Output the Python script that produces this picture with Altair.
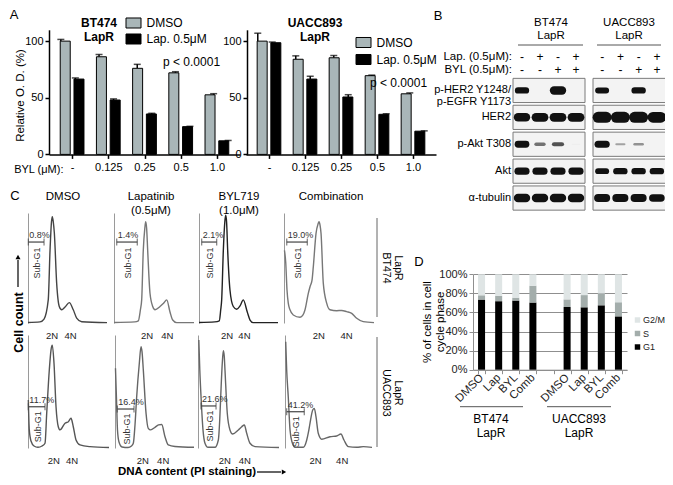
import json
import altair as alt
import pandas as pd

W, H = 657, 469
MARGIN = 8
FONT = "Liberation Sans"


def P(v):
    """page pixel -> plot pixel"""
    return v - MARGIN


# ---------------- data: panel A (relative O.D.) ----------------
doses = ["-", "0.125", "0.25", "0.5", "1.0"]
treatments = ["DMSO", "Lap. 0.5μM"]
bt474_dmso = [100.0, 86.2, 76.0, 72.0, 52.6]
bt474_dmso_err = [1.5, 2.0, 3.5, 1.0, 1.0]
bt474_lap = [66.5, 48.0, 35.7, 24.5, 12.0]
bt474_lap_err = [1.0, 1.0, 0.6, 0.3, 0.3]
uacc893_dmso = [100.0, 84.0, 85.3, 69.5, 53.5]
uacc893_dmso_err = [7.0, 3.0, 2.0, 0.5, 0.8]
uacc893_lap = [98.6, 66.5, 50.7, 35.4, 20.5]
uacc893_lap_err = [0.6, 2.5, 2.0, 0.5, 0.3]
A_COLORS = ["#a9b6b8", "#000000"]

# ---------------- data: panel B (western blot band signal) ----------------
blot_rows = ["p-HER2 Y1248/\np-EGFR Y1173", "HER2", "p-Akt T308", "Akt", "α-tubulin"]
blot_lanes = [1, 2, 3, 4]
lap_treatment = ["-", "+", "-", "+"]
byl_treatment = ["-", "-", "+", "+"]
bt474_blot = [
    [0.75, 0.0, 1.0, 0.0],
    [1.0, 1.05, 1.05, 1.05],
    [0.8, 0.4, 0.5, 0.05],
    [0.85, 0.85, 0.85, 0.85],
    [1.0, 1.0, 1.0, 1.0],
]
uacc893_blot = [
    [0.7, 0.0, 0.75, 0.0],
    [1.3, 1.3, 1.3, 1.25],
    [0.85, 0.25, 0.3, 0.0],
    [0.7, 0.75, 0.75, 0.75],
    [0.95, 0.95, 0.95, 0.9],
]

# ---------------- data: panel C (PI histograms, x = DNA content a.u., y = % of max) ----------------
bt474_dmso_u = [0, 14.8, 19.8, 25, 27.2, 29, 30, 31.2, 32.5, 35.4, 38.6, 41.6, 45.7, 51, 55.9, 60.1, 66.3, 97.5]
bt474_dmso_v = [0.5, 1, 3.6, 21, 66, 92, 96.6, 92, 82, 36, 15, 12, 14.5, 18.5, 12, 4.5, 1.2, 0.3]
bt474_lap_u = [0, 26, 30.4, 33, 34.6, 36.6, 38.5, 39.6, 40.8, 42.1, 45, 48.4, 51.3, 57.5, 61.9, 65.9, 70, 73.4, 78.4, 100]
bt474_lap_v = [0.5, 1, 2, 12, 21, 66, 86, 92, 86, 66, 27, 15, 12, 15, 18, 21, 10, 2.7, 0.3, 0.3]
bt474_byl_u = [0, 20, 25.7, 27.5, 28.7, 30.8, 32.7, 33.8, 34.9, 36.3, 39.2, 43.4, 47.7, 51.9, 56.1, 61.1, 64.6, 68.7, 100]
bt474_byl_v = [0.5, 1, 2, 12, 21, 66, 92, 98, 92, 66, 30, 15, 12.5, 15.5, 21, 10, 2.7, 0.3, 0.3]
bt474_comb_u = [0.5, 1.9, 3.3, 4.7, 6.6, 10.2, 17.6, 20.9, 23.1, 26.7, 28.6, 30.8, 32.2, 35.2, 37.4, 38.5,
                39.6, 40.7, 43.2, 46.9, 50.5, 57.9, 63.4, 68.9, 74.4, 79.9, 87.1, 98.9]
bt474_comb_v = [66, 55, 30, 18, 12, 7.3, 5.2, 7.3, 12, 27, 33, 39, 51, 81.5, 90, 92,
                89, 81.5, 36, 18, 12, 11.2, 11.4, 10.3, 8.8, 4.3, 1.2, 0.3]
uacc893_dmso_u = [0.4, 1.6, 3.7, 7.4, 12.3, 17.3, 21, 23.1, 26.3, 28.4, 30, 32.1, 34.6, 37.4, 39.5, 45.7,
                  49.8, 53.1, 55.9, 59.3, 64.2, 76.5, 100]
uacc893_dmso_v = [42.5, 16, 6.2, 1.8, 0.6, 1.8, 4.2, 30.7, 69, 86.7, 91, 75, 36.5, 18.8, 16, 21.9,
                  23.3, 26.3, 18.8, 7.1, 2.7, 1.2, 0.4]
uacc893_lap_u = [0.6, 1.9, 3.1, 5, 8.8, 16.3, 20.6, 22.9, 25, 27.1, 30.4, 32.5, 33.8, 35.4, 38.8, 41.6,
                 44.6, 50, 54.4, 58.4, 62.5, 66.6, 75, 98.8]
uacc893_lap_v = [70.5, 42.5, 16, 5.3, 0.9, 0.4, 1.8, 4.2, 20.4, 45.4, 75, 89.6, 85, 69, 30.7, 17.4,
                 16, 18.3, 20.4, 20.8, 10, 2.7, 1.3, 0.6]
uacc893_byl_u = [1, 2.2, 3.7, 6.1, 8.5, 12.2, 20.7, 24.8, 26.5, 27.7, 29.6, 30.9, 32, 32.9, 35.7, 39,
                 42.3, 49.2, 53.3, 56.5, 59.4, 63.4, 69.5, 98.8]
uacc893_byl_v = [95.6, 69, 45.4, 16, 4.2, 0.6, 0.6, 7.1, 24.8, 45.4, 75, 86.1, 81.4, 69, 30.7, 16,
                 12.4, 16, 18.8, 20.4, 13, 4.2, 1.2, 0.4]
uacc893_comb_u = [0.8, 1.9, 3.7, 5.7, 8, 11.4, 20.8, 24.7, 26.7, 28.4, 31.5, 33.3, 35.2, 37.8, 41.7,
                  51.1, 58.7, 63.6, 67, 71.9, 81.5, 89, 98.9]
uacc893_comb_v = [94, 69, 45.4, 16, 5.3, 0.6, 0.6, 7.1, 14.2, 21.9, 33.6, 35.1, 27.7, 13, 7.7,
                  10, 10.6, 12.4, 7.1, 1.2, 0.6, 1.2, 0.6]
# 2N / 4N peak positions (a.u.)
ploidy_2n = [29.2, 40.8, 35.0, 37.7, 31.3, 34.2, 32.1, 34.1]
ploidy_4n = [51.9, 65.9, 56.9, 68.1, 53.9, 59.6, 56.5, 64.4]
# Sub-G1 gates: start, end (a.u.), drawn level (% of max), percentage
gate_start = [0.4, 3.4, 3.4, 3.0, 0.4, 2.9, 3.7, 1.9]
gate_end = [19.8, 29.1, 22.4, 25.6, 21.0, 23.75, 22.0, 21.9]
gate_level = [73.6, 73.6, 73.6, 73.6, 36.5, 34.5, 37.2, 32.1]
sub_g1_pct = ["0.8%", "1.4%", "2.1%", "19.0%", "11.7%", "16.4%", "21.6%", "41.2%"]

# ---------------- data: panel D (cell-cycle phases, %) ----------------
cell_lines = ["BT474", "UACC893"]
cc_treatments = ["DMSO", "Lap", "BYL", "Comb"]
phases = ["G2/M", "S", "G1"]
g1_pct = [73.5, 71.8, 72.5, 70.4, 65.7, 65.4, 67.5, 55.9]
s_pct = [4.5, 5.7, 3.0, 17.6, 8.0, 12.8, 12.5, 14.8]
g2m_pct = [22.0, 22.5, 24.5, 12.0, 26.3, 21.8, 20.0, 29.3]
PHASE_COLORS = ["#dfe5e5", "#a3adab", "#000000"]


# ======================= helpers =======================
def one():
    return alt.Data(values=[{}])


def label(text, x, y, size=11, weight="normal", align="center", angle=0, color="black", baseline="middle"):
    kw = dict(text=text, fontSize=size, fontWeight=weight, align=align, baseline=baseline, color=color)
    enc = dict(x=alt.value(P(x)), y=alt.value(P(y)))
    if angle:
        kw["angle"] = angle
        enc["angle"] = alt.value(angle)
    return alt.Chart(one()).mark_text(**kw).encode(**enc)


def seg(x1, y1, x2, y2, color="#555", width=1.0):
    return alt.Chart(one()).mark_rule(color=color, strokeWidth=width).encode(
        x=alt.value(P(x1)), y=alt.value(P(y1)), x2=alt.value(P(x2)), y2=alt.value(P(y2)))


def arrowhead(x, y, shape, size=30, color="black"):
    return alt.Chart(one()).mark_point(shape=shape, filled=True, size=size, color=color, opacity=1).encode(
        x=alt.value(P(x)), y=alt.value(P(y)))


# ======================= Panel A =======================
def viability_panel(dmso, dmso_err, lap, lap_err, x_px, yaxis_px, legend_px, row_pad, y_title, x_title):
    rows = []
    for i, d in enumerate(doses):
        rows.append({"dose": d, "idx": i, "treatment": treatments[0], "value": dmso[i], "err": dmso_err[i]})
        rows.append({"dose": d, "idx": i, "treatment": treatments[1], "value": lap[i], "err": lap_err[i]})
    df = pd.DataFrame(rows)
    xs = alt.Scale(domain=[-0.5, len(doses) - 0.5], range=[P(x_px[0]), P(x_px[1])], nice=False, zero=False)
    ys = alt.Scale(domain=[0, 110], range=[P(154.4), P(29.8)], nice=False, zero=True)
    xaxis_kw = dict(orient="bottom", offset=P(154.4) - H, values=list(range(len(doses))),
                    labelExpr=json.dumps(doses) + "[datum.value]", grid=False,
                    domainColor="black", domainWidth=1.5, tickColor="black", tickWidth=1.5, tickSize=4,
                    labelFontSize=11, labelColor="black", labelPadding=3, labelFlush=False,
                    labelOverlap=False)
    if x_title:
        xaxis_kw.update(title=x_title, titleX=P(63), titleY=14.6, titleAlign="right",
                        titleBaseline="middle", titleFontSize=11, titleFontWeight="normal",
                        titleColor="black", titleAngle=0)
    else:
        xaxis_kw.update(title=None)
    yaxis_kw = dict(orient="left", offset=-P(yaxis_px), values=[0, 50, 100], grid=False,
                    domainColor="black", domainWidth=1.5, tickColor="black", tickWidth=1.5, tickSize=4,
                    labelFontSize=11, labelColor="black", labelPadding=2, labelFlush=False)
    if y_title:
        yaxis_kw.update(title=y_title, titleX=20 - yaxis_px, titleY=P(95), titleAngle=270,
                        titleAlign="center", titleBaseline="middle", titleFontSize=11.5,
                        titleFontWeight="normal", titleColor="black")
    else:
        yaxis_kw.update(title=None)
    leg = alt.Legend(orient="none", legendX=P(legend_px[0]), legendY=P(legend_px[1]), title=None, padding=0,
                     symbolType="M-1,-0.667H1V0.667H-1Z", symbolSize=225, symbolStrokeColor="black",
                     symbolStrokeWidth=1, symbolOpacity=1, labelFontSize=12, labelColor="black",
                     labelOffset=5, rowPadding=row_pad)
    base = alt.Chart(df).transform_calculate(
        xpos=f"datum.idx + (datum.treatment == '{treatments[0]}' ? -0.19 : 0.19)",
        top="datum.value + datum.err")
    err = base.mark_rule(color="black", strokeWidth=1.5).encode(
        x=alt.X("xpos:Q", scale=xs, axis=None),
        y=alt.Y("value:Q", scale=ys, axis=None),
        y2="top:Q")
    bars = base.mark_bar(width=10, stroke="black", strokeWidth=1, orient="vertical").encode(
        x=alt.X("xpos:Q", scale=xs, axis=alt.Axis(**xaxis_kw)),
        y=alt.Y("value:Q", scale=ys, axis=alt.Axis(**yaxis_kw), stack=None),
        color=alt.Color("treatment:N", scale=alt.Scale(domain=treatments, range=A_COLORS), legend=leg))
    cap = base.mark_tick(orient="horizontal", size=7, thickness=1.5, color="black").encode(
        x=alt.X("xpos:Q", scale=xs, axis=None),
        y=alt.Y("top:Q", scale=ys, axis=None))
    return [err, bars, cap]


# ======================= Panel B =======================
def blot_panel(signal, x_px, with_labels):
    xs = alt.Scale(domain=[0.5, 4.5], range=[P(x_px[0]), P(x_px[1])], nice=False, zero=False)
    ys = alt.Scale(domain=blot_rows, range=[P(77), P(211.5)], paddingInner=0.1, paddingOuter=0.05)
    boxes = alt.Chart(pd.DataFrame({"row": blot_rows})).mark_rect(
        fill="#f3f3f3", stroke="#7a7a7a", strokeWidth=1).encode(
        x=alt.XDatum(0.5, type="quantitative", scale=xs, axis=None),
        x2=alt.X2Datum(4.5),
        y=alt.Y("row:N", scale=ys, axis=None))
    rows = []
    for r, row in enumerate(blot_rows):
        for l, lane in enumerate(blot_lanes):
            if signal[r][l] > 0:
                rows.append({"row": row, "lane": lane, "signal": signal[r][l]})
    bands = alt.Chart(pd.DataFrame(rows)).transform_calculate(
        x0="datum.lane - 0.22", x1="datum.lane + 0.22").mark_rule(strokeCap="round", color="#111").encode(
        x=alt.X("x0:Q", scale=xs, axis=None),
        x2="x1:Q",
        y=alt.Y("row:N", scale=ys, axis=None),
        strokeWidth=alt.StrokeWidth("signal:Q", scale=alt.Scale(domain=[0, 1.3], range=[0, 11]), legend=None),
        opacity=alt.Opacity("signal:Q", scale=alt.Scale(domain=[0, 0.7], range=[0, 1], clamp=True), legend=None))
    tdf = pd.DataFrame({"lane": blot_lanes, "lap": lap_treatment, "byl": byl_treatment})
    lap_t = alt.Chart(tdf).mark_text(fontSize=12, color="black").encode(
        x=alt.X("lane:Q", scale=xs, axis=None), y=alt.value(P(57)), text="lap:N")
    byl_t = alt.Chart(tdf).mark_text(fontSize=12, color="black").encode(
        x=alt.X("lane:Q", scale=xs, axis=None), y=alt.value(P(70)), text="byl:N")
    parts = [boxes, bands, lap_t, byl_t]
    if with_labels:
        labels = alt.Chart(pd.DataFrame({"row": blot_rows})).mark_text(
            align="right", baseline="middle", fontSize=11, lineBreak="\n", lineHeight=12,
            color="black").encode(
            x=alt.value(P(511)), y=alt.Y("row:N", scale=ys, axis=None), text="row:N")
        parts.append(labels)
    return parts


# ======================= Panel C =======================
def histogram(u, v, geom, k, color, sub_offset, y_title=None):
    left, right, base, top = geom
    xs = alt.Scale(domain=[0, 100], range=[P(left), P(right)], nice=False, zero=False)
    ys = alt.Scale(domain=[0, 100], range=[P(base), P(top)], nice=False, zero=False)
    n2, n4 = ploidy_2n[k], ploidy_4n[k]
    yaxis_kw = dict(orient="left", offset=-P(left), labels=False, ticks=False, grid=False,
                    domainColor="#9a9a9a", domainWidth=1)
    if y_title:
        yaxis_kw.update(title=y_title, titleX=18 - left, titleY=P(322), titleAngle=270,
                        titleAlign="center", titleBaseline="middle", titleFontSize=12.5,
                        titleFontWeight="bold", titleColor="black")
    else:
        yaxis_kw.update(title=None)
    curve = alt.Chart(pd.DataFrame({"u": u, "v": v})).mark_line(
        interpolate="monotone", color=color, strokeWidth=1.4).encode(
        x=alt.X("u:Q", scale=xs, axis=alt.Axis(
            orient="bottom", offset=P(base) - H, values=[n2, n4],
            labelExpr=f"datum.value < {(n2 + n4) / 2:.2f} ? '2N' : '4N'",
            domain=False, ticks=False, grid=False, labelFontSize=9.5, labelColor="#222",
            labelPadding=7, labelFlush=False, labelOverlap=False, title=None)),
        y=alt.Y("v:Q", scale=ys, axis=alt.Axis(**yaxis_kw)))
    gdf = pd.DataFrame([{"start": gate_start[k], "end": gate_end[k], "level": gate_level[k],
                         "pct": sub_g1_pct[k]}])
    gb = alt.Chart(gdf).transform_calculate(mid="(datum.start + datum.end) / 2")

    def gx(f):
        return alt.X(f, scale=xs, axis=None)

    def gy():
        return alt.Y("level:Q", scale=ys, axis=None)

    gate = gb.mark_rule(color="#444", strokeWidth=1.2).encode(x=gx("start:Q"), x2="end:Q", y=gy())
    cap0 = gb.mark_tick(orient="vertical", size=7, thickness=1.2, color="#444").encode(x=gx("start:Q"), y=gy())
    cap1 = gb.mark_tick(orient="vertical", size=7, thickness=1.2, color="#444").encode(x=gx("end:Q"), y=gy())
    pct = gb.mark_text(align="left", baseline="bottom", dy=-2, dx=1, fontSize=9, color="#333").encode(
        x=gx("start:Q"), y=gy(), text="pct:N")
    sub = gb.mark_text(text="Sub-G1", angle=270, yOffset=sub_offset, xOffset=1, fontSize=9,
                       color="#333", align="center", baseline="middle").encode(x=gx("mid:Q"), y=gy())
    return [curve, gate, cap0, cap1, pct, sub]


top_geom = [(28, 109, 323, 213), (114, 194, 323, 213), (199, 278, 323, 213), (284, 375, 323, 213)]
bot_geom = [(28, 109, 448, 335), (115, 195, 448, 335), (198, 280, 448, 335), (285, 373, 448, 335)]
curves = [
    (bt474_dmso_u, bt474_dmso_v), (bt474_lap_u, bt474_lap_v), (bt474_byl_u, bt474_byl_v),
    (bt474_comb_u, bt474_comb_v), (uacc893_dmso_u, uacc893_dmso_v), (uacc893_lap_u, uacc893_lap_v),
    (uacc893_byl_u, uacc893_byl_v), (uacc893_comb_u, uacc893_comb_v)]
curve_colors = ["#444", "#777", "#222", "#777", "#555", "#666", "#666", "#666"]

# ======================= Panel D =======================
keys, d_rows = [], []
for ci, cl in enumerate(cell_lines):
    if ci > 0:
        keys.append("|")  # empty category between the two cell lines
    for ti, t in enumerate(cc_treatments):
        key = f"{cl}|{t}"
        keys.append(key)
        j = ci * len(cc_treatments) + ti
        d_rows.append({"key": key, "phase": "G1", "frac": g1_pct[j] / 100})
        d_rows.append({"key": key, "phase": "S", "frac": s_pct[j] / 100})
        d_rows.append({"key": key, "phase": "G2/M", "frac": g2m_pct[j] / 100})

panel_d = alt.Chart(pd.DataFrame(d_rows)).transform_calculate(
    ord="indexof(['G1','S','G2/M'], datum.phase)").mark_bar().encode(
    x=alt.X("key:N", scale=alt.Scale(domain=keys, range=[P(473), P(627)], paddingInner=0.59, paddingOuter=0.295),
            axis=alt.Axis(orient="bottom", offset=P(369.7) - H, labelExpr="split(datum.value, '|')[1]",
                          tickBand="extent", tickSize=4, tickColor="#8f8f8f", domainColor="#8f8f8f",
                          labelAngle=-45, labelAlign="right", labelBaseline="middle", labelFontSize=11.5,
                          labelColor="#222", labelPadding=2, labelFlush=False, labelOverlap=False,
                          grid=False, title=None)),
    y=alt.Y("frac:Q", stack="zero",
            scale=alt.Scale(domain=[0, 1], range=[P(369.7), P(274.3)], nice=False),
            axis=alt.Axis(orient="left", offset=-P(473), values=[0, 0.2, 0.4, 0.6, 0.8, 1.0], format=".0%",
                          grid=True, gridColor="#8f8f8f", gridWidth=1, domainColor="#8f8f8f",
                          tickColor="#8f8f8f", tickSize=4, labelFontSize=11, labelColor="#222",
                          labelPadding=2, labelFlush=False, title=None)),
    color=alt.Color("phase:N", scale=alt.Scale(domain=phases, range=PHASE_COLORS),
                    legend=alt.Legend(orient="none", legendX=P(633), legendY=P(315.5), title=None, padding=0,
                                      symbolType="square", symbolSize=30, symbolStrokeWidth=0,
                                      labelFontSize=9, labelColor="#222", labelOffset=1, rowPadding=3.5)),
    order=alt.Order("ord:Q"))

# ======================= assemble =======================
layers = []
layers += viability_panel(bt474_dmso, bt474_dmso_err, bt474_lap, bt474_lap_err, (49, 240), 49, (125.5, 15), 0,
                          "Relative O. D. (%)", "BYL (μM):")
layers += viability_panel(uacc893_dmso, uacc893_dmso_err, uacc893_lap, uacc893_lap_err, (246, 436), 247,
                          (355.5, 34.5), 1, None, None)
layers += blot_panel(bt474_blot, (513, 585), True)
layers += blot_panel(uacc893_blot, (593, 666), False)
for k in range(8):
    geom = top_geom[k] if k < 4 else bot_geom[k - 4]
    layers += histogram(curves[k][0], curves[k][1], geom, k, curve_colors[k], 21 if k < 4 else 20,
                        "Cell count" if k == 4 else None)
layers.append(panel_d)

annotations = [
    # panel letters
    label("A", 14, 15, size=13), label("B", 438, 16, size=13),
    label("C", 15, 196, size=13), label("D", 419, 262, size=13),
    # panel A
    label("BT474", 99, 23, size=12, weight="bold"), label("LapR", 99, 37, size=12, weight="bold"),
    label("UACC893", 315, 23, size=12, weight="bold"), label("LapR", 315, 37, size=12, weight="bold"),
    label("p < 0.0001", 163, 62, size=12, align="left"),
    label("p < 0.0001", 370, 83, size=12, align="left"),
    # panel B
    label("BT474", 551, 22.5, size=11.5), label("LapR", 551, 35.5, size=11.5),
    label("UACC893", 629, 22.5, size=11.5), label("LapR", 629, 35.5, size=11.5),
    seg(518, 45, 583, 45), seg(597, 45, 661, 45),
    label("Lap. (0.5μM):", 512, 57, size=11.5, align="right"),
    label("BYL (0.5μM):", 512, 70, size=11.5, align="right"),
    # panel C
    label("DMSO", 63, 197, size=11.5),
    label("Lapatinib", 151, 197, size=11.5), label("(0.5μM)", 151, 211, size=11.5),
    label("BYL719", 239, 197, size=11.5), label("(1.0μM)", 239, 211, size=11.5),
    label("Combination", 331, 197, size=11.5),
    seg(377, 218, 377, 317, color="#666"), seg(377, 337, 377, 447, color="#666"),
    label("BT474", 386, 268, size=10.5, angle=90), label("LapR", 398, 268, size=10.5, angle=90),
    label("UACC893", 386, 393, size=10.5, angle=90), label("LapR", 398, 393, size=10.5, angle=90),
    seg(18, 287, 18, 260, color="black", width=1.2), arrowhead(18, 257, "triangle-up", size=25),
    label("DNA content (PI staining)", 187, 472, size=11.5, weight="bold"),
    seg(257, 472, 281, 472, color="black", width=1.2), arrowhead(284, 472, "triangle-right", size=25),
    # panel D
    label("% of cells in cell", 428, 322, size=11.5, angle=270),
    label("cycle phase", 441, 322, size=11.5, angle=270),
    seg(460, 406.7, 523, 406.7), seg(547, 406.7, 611, 406.7),
    label("BT474", 491, 419, size=12), label("LapR", 491, 433, size=12),
    label("UACC893", 579, 419, size=12), label("LapR", 579, 433, size=12),
]
layers.extend(annotations)

chart = alt.layer(*layers).resolve_scale(
    x="independent", y="independent", color="independent",
    strokeWidth="independent", opacity="independent",
).resolve_axis(x="independent", y="independent").resolve_legend(color="independent").properties(
    width=W, height=H, autosize=alt.AutoSizeParams(type="none"), padding=0,
).configure(font=FONT).configure_view(stroke=None)

chart.save("out.html", embed_options={"renderer": "svg", "actions": False})
